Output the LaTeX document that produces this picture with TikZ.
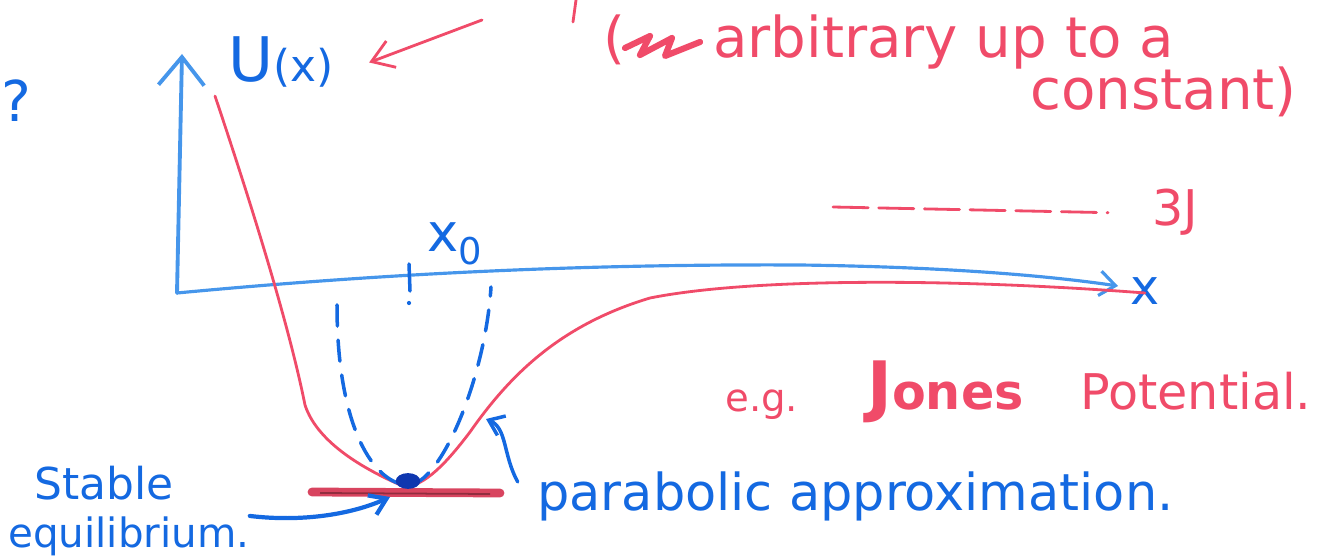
\documentclass[tikz,border=0pt]{standalone}
\usepackage{fontspec}
\setmainfont{DejaVu Sans}
\usetikzlibrary{arrows.meta}
\definecolor{penblue}{RGB}{20,105,225}
\definecolor{axisblue}{RGB}{70,150,235}
\definecolor{penred}{RGB}{240,75,105}
\definecolor{dotblue}{RGB}{15,55,175}
\tikzset{
  redpen/.style={penred, line width=1.6pt, line cap=round, line join=round},
  bluepen/.style={penblue, line width=2pt, line cap=round, line join=round},
  bluetext/.style={text=penblue, inner sep=0pt, anchor=base west},
  redtext/.style={text=penred, inner sep=0pt, anchor=base west}
}

\begin{document}
\begin{tikzpicture}[x=0.02cm, y=-0.02cm]
        \useasboundingbox (0,0) rectangle (1322,560);

        % axes
        \coordinate (origin) at (177,293);
        \coordinate (ytop) at (182,54);
        \coordinate (xtip) at (1118,286);
        \draw[axisblue, line width=2.2pt, line cap=round, -{Straight Barb[length=16pt,width=26pt]}] (origin) -- (ytop);
        \draw[axisblue, line width=1.8pt, line cap=round, -{Straight Barb[length=9pt,width=14pt]}] (origin) .. controls (400,272) and (600,264) .. (800,265) .. controls (950,267) and (1050,276) .. (xtip);
        \node[bluetext] (ulabel) at (228,82) {\fontsize{35}{35}\selectfont U\fontsize{25}{25}\selectfont(x)};
        \node[bluetext] (xlabel) at (1130,305) {\fontsize{28}{28}\selectfont x};
        \node[bluetext] (qmark) at (1,122) {\fontsize{32}{32}\selectfont ?};

        % x0 mark
        \node[bluetext] (xzero) at (427,252) {\fontsize{30}{30}\selectfont x\textsubscript{0}};
        \draw[bluepen] (409,264) -- (410,291);
        \fill[penblue] (409,303) circle (1.2pt);

        % potential
        \draw[redpen] (215,96) .. controls (255,215) and (290,330) .. (305,405) .. controls (318,445) and (370,472) .. (405,487) .. controls (425,485) and (445,465) .. (470,432) .. controls (510,375) and (560,325) .. (650,298) .. controls (750,278) and (950,278) .. (1145,293);

        % parabola
        \draw[bluepen, dash pattern=on 12pt off 8pt] (337,305) .. controls (337,430) and (375,484) .. (408,485) .. controls (440,485) and (485,380) .. (491,287);
        \draw[penred!90!black, line width=5pt, line cap=round] (312,492) -- (500,493);
        \draw[penred!60!black, line width=1pt] (320,493) -- (490,494);
        \fill[dotblue] (408,481) ellipse (7pt and 4.5pt);

        % stable equilibrium
        \node[bluetext] (stable) at (34,500) {\fontsize{25}{25}\selectfont Stable};
        \node[bluetext] (equil) at (8,547) {\fontsize{23}{23}\selectfont equilibrium.};
        \coordinate (eqpt) at (390,497);
        \draw[bluepen, line width=2.4pt, -{Straight Barb[length=9pt,width=12pt]}] (equil.north east) .. controls (300,522) and (350,515) .. (eqpt);

        % parabolic approximation
        \node[bluetext] (parab) at (537,510) {\fontsize{29}{29}\selectfont parabolic approximation.};
        \coordinate (hookend) at (486,419);
        \draw[bluepen, -{Straight Barb[length=8pt,width=12pt]}] ([xshift=-11pt,yshift=8pt]parab.west) .. controls (503,455) and (507,428) .. (hookend);

        % note on the constant
        \node[redtext] (note) at (603,58) {\fontsize{32}{32}\selectfont(\hspace{50pt}arbitrary up to a};
        \draw[penred, line width=3.5pt, line cap=round, line join=round] (625,48) -- (650,36) -- (640,55) -- (672,38) -- (665,56) -- (700,42);
        \node[redtext] (const) at (1030,110) {\fontsize{32}{32}\selectfont constant)};
        \draw[redpen] (576,0) -- (573,22);
        \coordinate (notetail) at (482,20);
        \draw[redpen, -{Straight Barb[length=12pt,width=16pt]}] (notetail) -- ([xshift=20pt]ulabel.east);

        % 3J level
        \node[redtext] (threeJ) at (1152,226) {\fontsize{28}{28}\selectfont 3J};
        \coordinate (dashstart) at (833,207);
        \draw[redpen, dash pattern=on 20pt off 6pt] (dashstart) -- ([xshift=-25pt]threeJ.west);

        % example
        \node[redtext] (eg) at (725,412) {\fontsize{22}{22}\selectfont e.g.};
        \node[redtext] (jones) at (867,410) {\fontsize{38}{38}\selectfont\bfseries J\fontsize{28}{28}\selectfont ones};
        \node[redtext] (potential) at (1080,410) {\fontsize{28}{28}\selectfont Potential.};
    \end{tikzpicture}
\end{document}
